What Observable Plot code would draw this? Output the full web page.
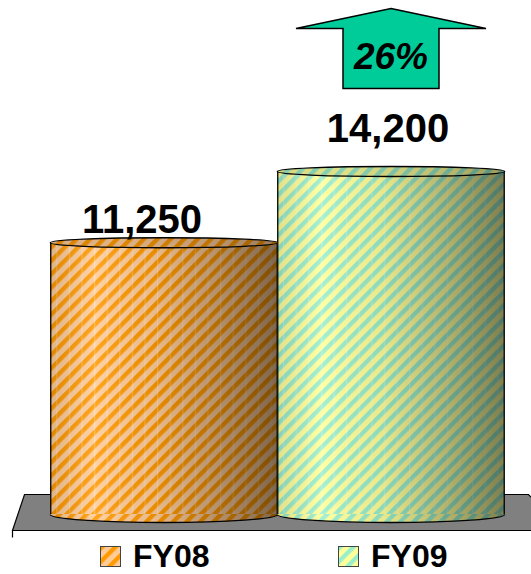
<!DOCTYPE html>
<html><head><meta charset="utf-8">
<script src="https://cdn.jsdelivr.net/npm/d3@7"></script>
<script src="https://cdn.jsdelivr.net/npm/@observablehq/plot@0.6"></script>
<style>
body{margin:0;background:#fff;font-family:"Liberation Sans",Arial,sans-serif;}
#wrap{position:relative;width:531px;height:574px;}
.sw{position:absolute;top:546px;}
.lt{position:absolute;top:538px;font-weight:bold;font-size:32px;line-height:normal;color:#000;white-space:nowrap;}
</style></head><body><div id="wrap"></div>
<script>
// ---- data ----
const years = ["FY08", "FY09"];
const values = [11250, 14200];
const baseColors = ["#FFCC99", "#FFFF99"];
const stripeColors = ["#FF9900", "#99EECC"];

const rows = years.map((year, i) => ({year, value: values[i], idx: i}));
const growth = Math.round((values[1] / values[0] - 1) * 100) + "%";
const fmt = d3.format(",");

// ---- layout ----
const W = 531, H = 540, X0 = 49, X1 = 504, YB = 514, YT = 171;
const half = (X1 - X0) / 4; // half of one band
const K = 0.5523;

function ellipseSym(ry) {
  return {draw(c, size) {
    const rx = Math.sqrt(size / Math.PI);
    c.moveTo(-rx, 0);
    c.bezierCurveTo(-rx, -K * ry, -K * rx, -ry, 0, -ry);
    c.bezierCurveTo(K * rx, -ry, rx, -K * ry, rx, 0);
    c.bezierCurveTo(rx, K * ry, K * rx, ry, 0, ry);
    c.bezierCurveTo(-K * rx, ry, -rx, K * ry, -rx, 0);
    c.closePath();
  }};
}
function lowerHalfSym(ry) {
  return {draw(c, size) {
    const rx = Math.sqrt(size / Math.PI);
    c.moveTo(-rx, -2); c.lineTo(rx, -2); c.lineTo(rx, 0);
    c.bezierCurveTo(rx, K * ry, K * rx, ry, 0, ry);
    c.bezierCurveTo(-K * rx, ry, -rx, K * ry, -rx, 0);
    c.closePath();
  }};
}
function lowerArcSym(ry) {
  return {draw(c, size) {
    const rx = Math.sqrt(size / Math.PI);
    c.moveTo(rx, 0);
    c.bezierCurveTo(rx, K * ry, K * rx, ry, 0, ry);
    c.bezierCurveTo(-K * rx, ry, -rx, K * ry, -rx, 0);
  }};
}
const arrowSym = {draw(c) {
  c.moveTo(0, 1); c.lineTo(95, 21); c.lineTo(48, 21); c.lineTo(48, 81);
  c.lineTo(-48, 81); c.lineTo(-48, 21); c.lineTo(-95, 21); c.closePath();
}};
const floorSym = {draw(c) {
  c.moveTo(-25, -20); c.lineTo(479, -20); c.lineTo(486, -13); c.lineTo(486, 16);
  c.lineTo(-37, 16); c.closePath();
  c.moveTo(-37, 16); c.lineTo(-37, 23);
}};

const TOP_RY = 5, BOT_RY = 8;
const marks = [
  Plot.dot([0], {frameAnchor: "bottom-left", symbol: floorSym, r: 5, fill: "#808080", stroke: "#000", strokeWidth: 1.2})
];
rows.forEach((d, i) => {
  const data = [d];
  const pat = `url(#stripe${i})`;
  marks.push(
    Plot.dot(data, {x: "year", y: 0, symbol: lowerHalfSym(BOT_RY), r: half, fill: pat}),
    Plot.dot(data, {x: "year", y: 0, symbol: lowerHalfSym(BOT_RY), r: half, fill: "url(#shade)"}),
    Plot.barY(data, {x: "year", y: "value", fill: pat}),
    Plot.barY(data, {x: "year", y: "value", fill: "url(#facets)"}),
    Plot.barY(data, {x: "year", y: "value", fill: "url(#shade)"}),
    Plot.dot(data, {x: "year", y: 0, symbol: lowerArcSym(BOT_RY), r: half, fill: "none", stroke: "#000", strokeWidth: 1.3}),
    Plot.ruleX(data, {x: "year", y1: 0, y2: "value", dx: -half + 0.5, stroke: "#000", strokeWidth: 1.3}),
    Plot.ruleX(data, {x: "year", y1: 0, y2: "value", dx: half - 0.5, stroke: "#000", strokeWidth: 1.3}),
    Plot.dot(data, {x: "year", y: "value", symbol: ellipseSym(TOP_RY), r: half, fill: pat}),
    Plot.dot(data, {x: "year", y: "value", symbol: ellipseSym(TOP_RY), r: half, fill: "url(#shadeTop)", stroke: "#000", strokeWidth: 1.3})
  );
});
marks.push(
  Plot.text([rows[0]], {x: "year", y: "value", text: d => fmt(d.value), dx: -22, dy: -23, fontSize: 40, fontWeight: "bold", fill: "#000"}),
  Plot.text([rows[1]], {x: "year", y: "value", text: d => fmt(d.value), dx: -3, dy: -42, fontSize: 40, fontWeight: "bold", fill: "#000"}),
  Plot.dot([rows[1]], {x: "year", frameAnchor: "top", symbol: arrowSym, r: 5, fill: "#00CC99", stroke: "#000", strokeWidth: 1.5}),
  Plot.text([rows[1]], {x: "year", frameAnchor: "top", lineAnchor: "middle", text: () => growth, dx: 0, dy: 50, fontSize: 37, fontWeight: "bold", fontStyle: "italic", fill: "#000"})
);

const chart = Plot.plot({
  width: W, height: H,
  marginTop: 7, marginLeft: X0, marginRight: W - X1, marginBottom: H - YB,
  style: {fontFamily: "'Liberation Sans', Arial, sans-serif", background: "#fff", overflow: "visible"},
  x: {domain: years, range: [X0, X1], padding: 0, axis: null},
  y: {domain: [0, d3.max(values)], range: [YB, YT], axis: null},
  marks
});

// pattern / gradient definitions
const defs = d3.select(chart).insert("defs", ":first-child");
const P = 9.5;
baseColors.forEach((bg, i) => {
  const p = defs.append("pattern").attr("id", `stripe${i}`).attr("patternUnits", "userSpaceOnUse")
    .attr("width", P).attr("height", P).attr("patternTransform", "rotate(45)");
  p.append("rect").attr("width", P).attr("height", P).attr("fill", bg);
  p.append("rect").attr("width", 4.3).attr("height", P).attr("fill", stripeColors[i]);
});
const f = defs.append("pattern").attr("id", "facets").attr("patternUnits", "userSpaceOnUse")
  .attr("width", 12.6).attr("height", 10);
f.append("rect").attr("x", 6).attr("width", 1).attr("height", 10).attr("fill", "#fff").attr("fill-opacity", 0.3);
function grad(id, stops) {
  const g = defs.append("linearGradient").attr("id", id).attr("x1", 0).attr("x2", 1).attr("y1", 0).attr("y2", 0);
  stops.forEach(([o, c, a]) => g.append("stop").attr("offset", o).attr("stop-color", c).attr("stop-opacity", a));
}
grad("shade", [[0, "#000", 0.12], [0.2, "#fff", 0.12], [0.45, "#000", 0.08], [0.75, "#000", 0.3], [1, "#000", 0.5]]);
grad("shadeTop", [[0, "#000", 0.15], [0.3, "#000", 0.12], [0.7, "#000", 0.25], [1, "#000", 0.4]]);

const wrap = document.getElementById("wrap");
wrap.appendChild(chart);

// legend below the chart
const legX = [100, 338];
years.forEach((y, i) => {
  const sw = d3.create("svg").attr("class", "sw").attr("width", 22).attr("height", 22)
    .style("left", legX[i] + "px");
  sw.append("rect").attr("x", 0.5).attr("y", 0.5).attr("width", 20).attr("height", 20)
    .attr("fill", `url(#stripe${i})`).attr("stroke", "#444").attr("stroke-width", 1);
  wrap.appendChild(sw.node());
  const t = document.createElement("div");
  t.className = "lt"; t.style.left = (legX[i] + 33) + "px"; t.textContent = y;
  wrap.appendChild(t);
});
</script></body></html>
